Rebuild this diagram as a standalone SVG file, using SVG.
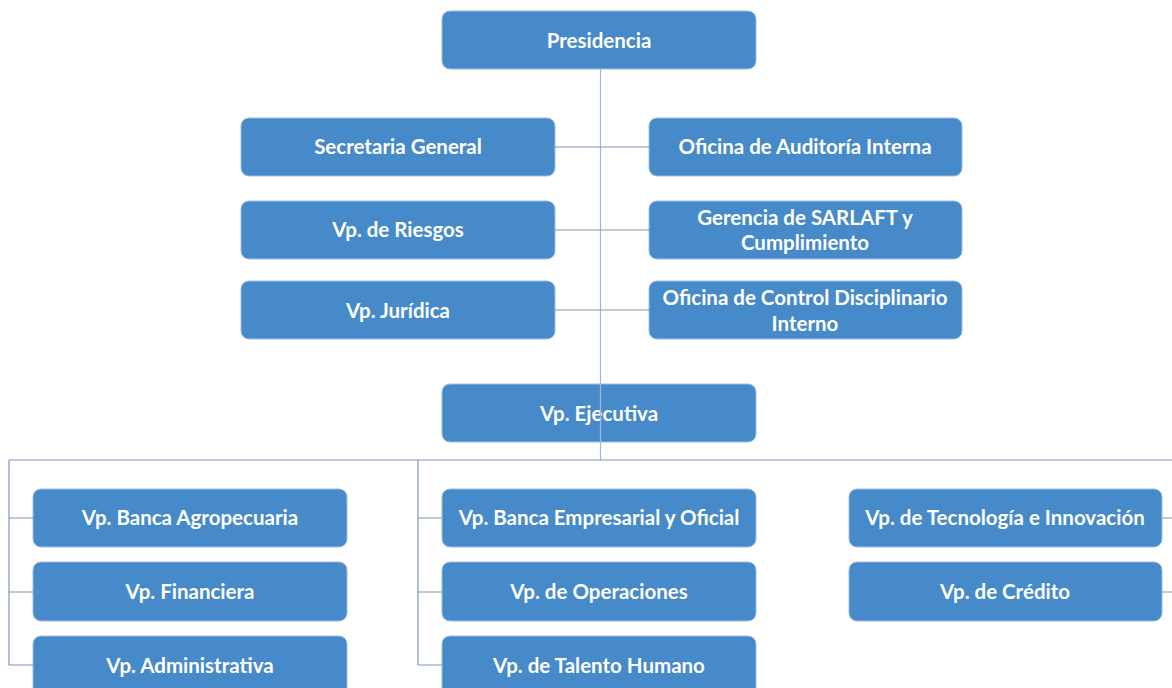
<svg xmlns="http://www.w3.org/2000/svg" width="1172" height="688" viewBox="0 0 1172 688">
<style>
.box{fill:#468ACA;stroke:#9DBCE0;stroke-width:1}
.t{font-family:Lato,"Open Sans",sans-serif;font-weight:bold;font-size:20.5px;fill:#ffffff;text-anchor:middle}
.c{fill:none;stroke:#8094C0;stroke-width:1.2}
.v{fill:none;stroke:#9FB6DC;stroke-width:1.2}
</style>
<rect width="1172" height="688" fill="#ffffff"/>
<g id="nodes">
<g id="presidencia"><rect class="box" x="442" y="11" width="314" height="58" rx="8"/><text class="t" x="599" y="48">Presidencia</text></g>
<g id="secretaria"><rect class="box" x="241" y="118" width="314" height="58" rx="8"/><text class="t" x="398" y="154">Secretaria General</text></g>
<g id="auditoria"><rect class="box" x="649" y="118" width="313" height="58" rx="8"/><text class="t" x="805" y="154">Oficina de Auditoría Interna</text></g>
<g id="riesgos"><rect class="box" x="241" y="201" width="314" height="58" rx="8"/><text class="t" x="398" y="237">Vp. de Riesgos</text></g>
<g id="sarlaft"><rect class="box" x="649" y="201" width="313" height="58" rx="8"/><text class="t" x="805" y="225">Gerencia de SARLAFT y</text><text class="t" x="805" y="250">Cumplimiento</text></g>
<g id="juridica"><rect class="box" x="241" y="281" width="314" height="58" rx="8"/><text class="t" x="398" y="318">Vp. Jurídica</text></g>
<g id="disciplinario"><rect class="box" x="649" y="281" width="313" height="58" rx="8"/><text class="t" x="805" y="305">Oficina de Control Disciplinario</text><text class="t" x="805" y="331">Interno</text></g>
<g id="ejecutiva"><rect class="box" x="442" y="384" width="314" height="58" rx="8"/><text class="t" x="599" y="421">Vp. Ejecutiva</text></g>
<g id="agropecuaria"><rect class="box" x="33" y="489" width="314" height="58" rx="8"/><text class="t" x="190" y="525">Vp. Banca Agropecuaria</text></g>
<g id="financiera"><rect class="box" x="33" y="562" width="314" height="59" rx="8"/><text class="t" x="190" y="599">Vp. Financiera</text></g>
<g id="administrativa"><rect class="box" x="33" y="636" width="314" height="60" rx="8"/><text class="t" x="190" y="673">Vp. Administrativa</text></g>
<g id="empresarial"><rect class="box" x="442" y="489" width="314" height="58" rx="8"/><text class="t" x="599" y="525">Vp. Banca Empresarial y Oficial</text></g>
<g id="operaciones"><rect class="box" x="442" y="562" width="314" height="59" rx="8"/><text class="t" x="599" y="599">Vp. de Operaciones</text></g>
<g id="talento"><rect class="box" x="442" y="636" width="314" height="60" rx="8"/><text class="t" x="599" y="673">Vp. de Talento Humano</text></g>
<g id="tecnologia"><rect class="box" x="849" y="489" width="313" height="58" rx="8"/><text class="t" x="1005" y="525">Vp. de Tecnología e Innovación</text></g>
<g id="credito"><rect class="box" x="849" y="562" width="313" height="59" rx="8"/><text class="t" x="1005" y="599">Vp. de Crédito</text></g>
</g>
<g id="connectors">
<path class="v" d="M600.5 69V460"/>
<path class="c" d="M555 147H649M555 230H649M555 310H649"/>
<path class="c" d="M9 460H1172"/>
<path class="c" d="M9 460V665M9 518H33M9 592H33M9 665H33"/>
<path class="c" d="M418 460V665M418 518H442M418 592H442M418 665H442"/>
<path class="c" d="M1162 518H1172M1162 592H1172"/>
</g>
</svg>
